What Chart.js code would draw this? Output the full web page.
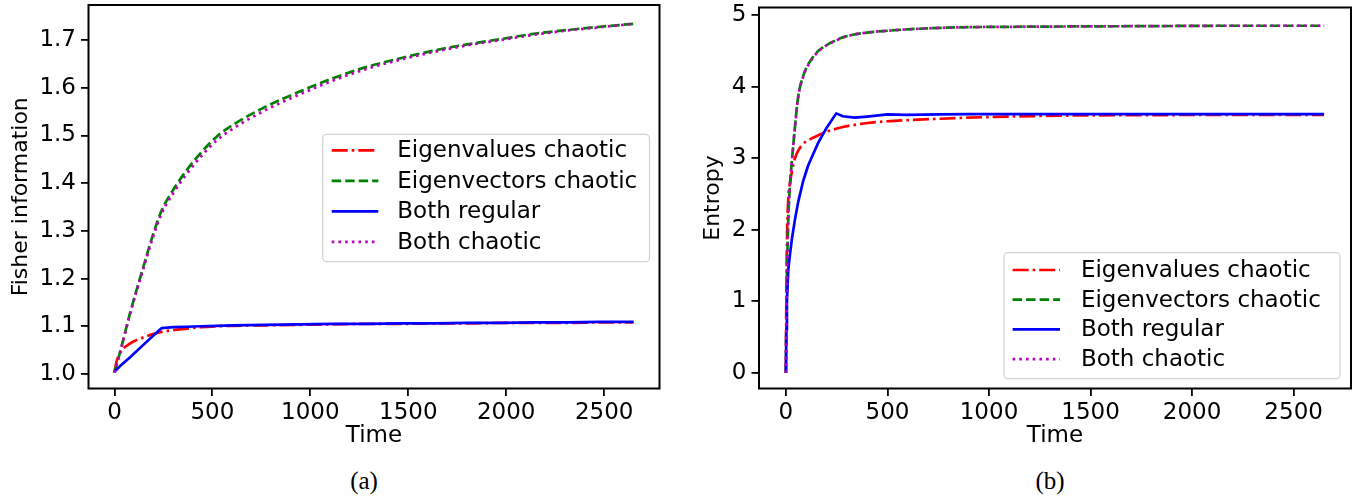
<!DOCTYPE html>
<html><head><meta charset="utf-8">
<script src="https://cdn.jsdelivr.net/npm/chart.js@4.4.0/dist/chart.umd.min.js"></script>
<style>
html,body{margin:0;padding:0;background:#fff;width:1354px;height:498px;overflow:hidden;}
#c1{position:absolute;left:0;top:0;width:680px;height:460px;}
#c2{position:absolute;left:680px;top:0;width:674px;height:460px;}
.cap{position:absolute;top:481px;font-family:'Liberation Serif',serif;font-size:25px;color:#000;transform:translate(-50%,-50%);white-space:nowrap;}
</style></head><body>
<canvas id="c1" width="680" height="460"></canvas>
<canvas id="c2" width="674" height="460"></canvas>
<div class="cap" style="left:364px">(a)</div>
<div class="cap" style="left:1050px">(b)</div>
<script>
// ---------- data ----------
const seriesNames = ['Eigenvalues chaotic', 'Eigenvectors chaotic', 'Both regular', 'Both chaotic'];

const fisherTime = [0, 10, 30, 80, 150, 200, 240, 300, 370, 440, 520, 600, 770, 945, 1115, 1290, 1460, 1630, 1800, 1970, 2140, 2310, 2480, 2650];
const fisherEigenvalues = [1.003, 1.025, 1.045, 1.064, 1.077, 1.084, 1.088, 1.092, 1.095, 1.098, 1.100, 1.101, 1.102, 1.103, 1.104, 1.105, 1.105, 1.106, 1.106, 1.107, 1.107, 1.107, 1.108, 1.108];
const fisherEigenvectors = [1.003, 1.018, 1.048, 1.128, 1.228, 1.296, 1.342, 1.386, 1.428, 1.463, 1.497, 1.521, 1.560, 1.592, 1.620, 1.644, 1.662, 1.678, 1.691, 1.702, 1.713, 1.721, 1.728, 1.734];
const fisherRegular = [1.005, 1.009, 1.017, 1.035, 1.062, 1.081, 1.096, 1.098, 1.099, 1.100, 1.101, 1.102, 1.103, 1.104, 1.105, 1.105, 1.106, 1.106, 1.107, 1.107, 1.108, 1.108, 1.109, 1.109];
const fisherChaotic = [1.003, 1.018, 1.047, 1.126, 1.224, 1.291, 1.336, 1.379, 1.420, 1.455, 1.489, 1.513, 1.553, 1.586, 1.615, 1.640, 1.659, 1.675, 1.689, 1.700, 1.711, 1.720, 1.727, 1.734];

const entropyTime = [0, 2, 5, 12, 20, 30, 45, 60, 85, 110, 130, 160, 200, 248, 280, 340, 400, 500, 600, 760, 900, 1100, 1400, 1800, 2200, 2650];
const entropyEigenvalues = [0, 1.0, 1.8, 2.45, 2.65, 2.82, 3.00, 3.10, 3.20, 3.25, 3.28, 3.32, 3.37, 3.41, 3.435, 3.465, 3.49, 3.515, 3.53, 3.55, 3.565, 3.58, 3.595, 3.60, 3.605, 3.605];
const entropyEigenvectors = [0, 0.6, 1.3, 2.18, 2.62, 2.98, 3.45, 3.85, 4.15, 4.31, 4.40, 4.50, 4.58, 4.65, 4.69, 4.73, 4.755, 4.78, 4.80, 4.82, 4.83, 4.835, 4.84, 4.845, 4.85, 4.85];
const entropyRegular = [0, 0.6, 1.0, 1.45, 1.65, 1.88, 2.15, 2.38, 2.68, 2.90, 3.03, 3.22, 3.42, 3.625, 3.585, 3.565, 3.58, 3.61, 3.605, 3.612, 3.615, 3.615, 3.615, 3.615, 3.615, 3.615];
const entropyChaotic = [0, 0.6, 1.3, 2.17, 2.61, 2.97, 3.44, 3.84, 4.14, 4.30, 4.39, 4.49, 4.575, 4.645, 4.685, 4.73, 4.755, 4.78, 4.80, 4.82, 4.83, 4.835, 4.84, 4.845, 4.85, 4.85];

const timeTickValues = [0, 500, 1000, 1500, 2000, 2500];
const timeTickLabels = ['0', '500', '1000', '1500', '2000', '2500'];
const fisherTickValues = [1.0, 1.1, 1.2, 1.3, 1.4, 1.5, 1.6, 1.7];
const fisherTickLabels = ['1.0', '1.1', '1.2', '1.3', '1.4', '1.5', '1.6', '1.7'];
const entropyTickValues = [0, 1, 2, 3, 4, 5];
const entropyTickLabels = ['0', '1', '2', '3', '4', '5'];

// ---------- styling ----------
Chart.defaults.font.family = "'DejaVu Sans', sans-serif";
Chart.defaults.font.size = 23;
Chart.defaults.color = '#000';

const FONT = 23;
const LW = 2.7;
const seriesStyles = [
  {color: '#ff0000', dash: [16, 4, 2.6, 4], order: 4, smooth: true},
  {color: '#008000', dash: [9.5, 4], order: 3, smooth: true},
  {color: '#0000ff', dash: [], order: 2, smooth: false},
  {color: '#bf00bf', dash: [2.6, 4.1], order: 1, smooth: true}
];

function makeDatasets(time, seriesList) {
  return seriesList.map((vals, k) => {
    const st = seriesStyles[k];
    return {
      label: seriesNames[k],
      data: time.map((t, i) => ({x: t, y: vals[i]})),
      borderColor: st.color,
      borderDash: st.dash,
      borderWidth: LW,
      borderCapStyle: 'butt',
      borderJoinStyle: 'round',
      pointRadius: 0,
      fill: false,
      order: st.order,
      cubicInterpolationMode: st.smooth ? 'monotone' : 'default',
      tension: 0
    };
  });
}

const framePlugin = {
  id: 'frame',
  afterDatasetsDraw(chart) {
    const {ctx, chartArea: a} = chart;
    ctx.save();
    ctx.strokeStyle = '#000';
    ctx.lineWidth = 2;
    ctx.setLineDash([]);
    ctx.strokeRect(a.left, a.top, a.right - a.left, a.bottom - a.top);
    ctx.restore();
  }
};

const boxLegend = {
  id: 'boxLegend',
  afterDraw(chart, args, o) {
    const {ctx, chartArea: a} = chart;
    const x0 = a.right - o.right - o.width;
    const y0 = (o.top !== undefined) ? a.top + o.top : a.bottom - o.bottom - o.height;
    ctx.save();
    ctx.beginPath();
    ctx.roundRect(x0, y0, o.width, o.height, 4);
    ctx.fillStyle = 'rgba(255,255,255,0.8)';
    ctx.fill();
    ctx.strokeStyle = 'rgba(204,204,204,0.9)';
    ctx.lineWidth = 1.2;
    ctx.stroke();
    chart.data.datasets.forEach((ds, i) => {
      const y = y0 + o.firstRow + i * o.rowH;
      ctx.beginPath();
      ctx.setLineDash(ds.borderDash || []);
      ctx.strokeStyle = ds.borderColor;
      ctx.lineWidth = ds.borderWidth;
      ctx.lineCap = 'butt';
      ctx.moveTo(x0 + o.lineX0, y);
      ctx.lineTo(x0 + o.lineX1, y);
      ctx.stroke();
      ctx.setLineDash([]);
      ctx.fillStyle = '#000';
      ctx.font = FONT + "px 'DejaVu Sans'";
      ctx.textAlign = 'left';
      ctx.textBaseline = 'middle';
      ctx.fillText(ds.label, x0 + o.textX, y + 1);
    });
    ctx.restore();
  }
};

function xScaleOpts() {
  return {
    type: 'linear', min: -132.5, max: 2782.5,
    afterBuildTicks: s => { s.ticks = timeTickValues.map(v => ({value: v})); },
    afterFit: s => { s.height = 71.5; s.paddingLeft = 0; s.paddingRight = 0; },
    ticks: {callback: (v, i) => timeTickLabels[i], padding: 3.5, autoSkip: false, maxRotation: 0, minRotation: 0, color: '#000', font: {size: FONT}},
    grid: {drawOnChartArea: false, drawTicks: true, tickLength: 7.5, color: '#000', lineWidth: 1.8},
    border: {display: false},
    title: {display: true, text: 'Time', color: '#000', font: {size: FONT}, padding: {top: 0, bottom: 10.2}}
  };
}

function yScaleOpts(min, max, vals, labels, width, title, titlePad) {
  return {
    type: 'linear', min: min, max: max,
    afterBuildTicks: s => { s.ticks = vals.map(v => ({value: v})); },
    afterFit: s => { s.width = width; s.paddingTop = 0; s.paddingBottom = 0; },
    ticks: {callback: (v, i) => labels[i], padding: 5, autoSkip: false, color: '#000', font: {size: FONT}},
    grid: {drawOnChartArea: false, drawTicks: true, tickLength: 7.5, color: '#000', lineWidth: 1.8},
    border: {display: false},
    title: {display: true, text: title, color: '#000', font: {size: 22}, padding: {top: titlePad, bottom: 0}}
  };
}

new Chart(document.getElementById('c1'), {
  type: 'line',
  data: {datasets: makeDatasets(fisherTime, [fisherEigenvalues, fisherEigenvectors, fisherRegular, fisherChaotic])},
  options: {
    responsive: false, animation: false, devicePixelRatio: 1,
    layout: {padding: {left: 0, right: 20.5, top: 5, bottom: 0}},
    scales: {
      x: xScaleOpts(),
      y: yScaleOpts(0.9695, 1.7736, fisherTickValues, fisherTickLabels, 88.5, 'Fisher information', 7.8)
    },
    plugins: {
      legend: {display: false}, tooltip: {enabled: false},
      boxLegend: {right: 10, top: 129.3, width: 326.8, height: 127.4, firstRow: 16, rowH: 30.5, lineX0: 9, lineX1: 55.6, textX: 74.6}
    }
  },
  plugins: [framePlugin, boxLegend]
});

new Chart(document.getElementById('c2'), {
  type: 'line',
  data: {datasets: makeDatasets(entropyTime, [entropyEigenvalues, entropyEigenvectors, entropyRegular, entropyChaotic])},
  options: {
    responsive: false, animation: false, devicePixelRatio: 1,
    layout: {padding: {left: 0, right: 3, top: 7.5, bottom: 0}},
    scales: {
      x: xScaleOpts(),
      y: yScaleOpts(-0.221, 5.105, entropyTickValues, entropyTickLabels, 79, 'Entropy', 20.3)
    },
    plugins: {
      legend: {display: false}, tooltip: {enabled: false},
      boxLegend: {right: 11, bottom: 9.8, width: 336, height: 126, firstRow: 17.3, rowH: 29.7, lineX0: 8.6, lineX1: 56, textX: 76.9}
    }
  },
  plugins: [framePlugin, boxLegend]
});
</script>
</body></html>
